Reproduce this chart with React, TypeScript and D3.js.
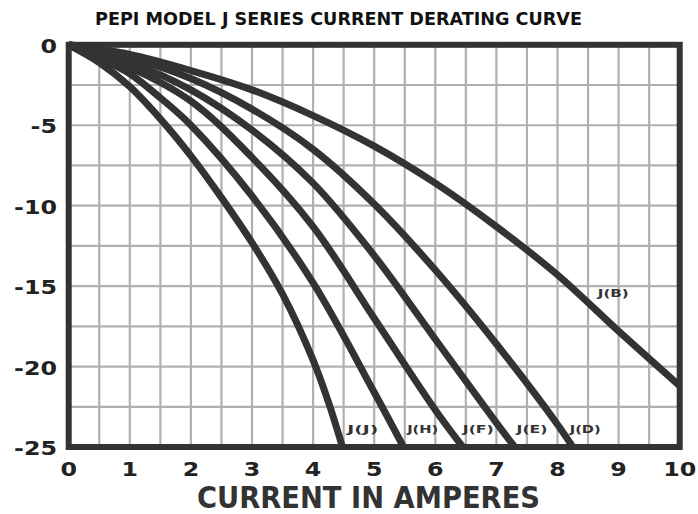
import React from 'react'
import * as d3 from 'd3'

// values
const xTicks = [0, 1, 2, 3, 4, 5, 6, 7, 8, 9, 10]
const yTicks = [0, -5, -10, -15, -20, -25]

const seriesNames = ['J(J)', 'J(H)', 'J(F)', 'J(E)', 'J(D)', 'J(B)']

const currentJJ = [0, 0.5, 1, 1.5, 2, 2.5, 3, 3.5, 4, 4.25, 4.48]
const dbJJ = [0, -1.1, -2.6, -4.6, -6.9, -9.5, -12.3, -15.5, -19.6, -22.2, -25]

const currentJH = [0, 0.5, 1, 1.5, 2, 3, 4, 5, 5.48]
const dbJH = [0, -0.8, -1.8, -3.3, -5.0, -9.4, -14.8, -21.6, -25]

const currentJF = [0, 1, 2, 3, 4, 5, 6, 6.45]
const dbJF = [0, -1.4, -3.5, -7.0, -11.3, -17.0, -22.7, -25]

const currentJE = [0, 1, 2, 3, 4, 5, 6, 7, 7.3]
const dbJE = [0, -1.1, -2.8, -5.3, -8.6, -13.1, -18.3, -23.5, -25]

const currentJD = [0, 1, 2, 3, 4, 5, 6, 7, 8, 8.25]
const dbJD = [0, -0.8, -2.1, -4.0, -6.5, -9.9, -14.0, -18.6, -23.6, -25]

const currentJB = [0, 1, 2, 3, 4, 5, 6, 7, 8, 9, 10]
const dbJB = [0, -0.6, -1.6, -2.8, -4.4, -6.3, -8.6, -11.3, -14.3, -17.8, -21.2]

// where each curve's name sits, in chart units
const labelCurrent = [4.56, 5.54, 6.45, 7.33, 8.2, 8.66]
const labelDb = [-24.1, -24.1, -24.1, -24.1, -24.1, -15.7]

const seriesX = [currentJJ, currentJH, currentJF, currentJE, currentJD, currentJB]
const seriesY = [dbJJ, dbJH, dbJF, dbJE, dbJD, dbJB]

const W = 698
const H = 514
const ink = '#333'

export default function App() {
  const x = d3.scaleLinear().domain([0, 10]).range([68.7, 679.7])
  const y = d3.scaleLinear().domain([0, -25]).range([44.8, 447])

  const line = d3.line<[number, number]>()
    .x(d => x(d[0]))
    .y(d => y(d[1]))
    .curve(d3.curveCatmullRom.alpha(0.5))

  const vGrid = d3.range(0.5, 10, 0.5)
  const hGrid = d3.range(-2.5, -25, -2.5)

  const font = '"DejaVu Sans", Verdana, sans-serif'

  return (
    <svg width={W} height={H} style={{ position: 'absolute', left: 0, top: 0, background: '#fff' }}>
      <text x={95} y={25} fontFamily={font} fontWeight="bold" fontSize={17}
        fill="#111" textLength={487} lengthAdjust="spacingAndGlyphs">
        PEPI MODEL J SERIES CURRENT DERATING CURVE
      </text>

      {/* grid */}
      <g stroke="#b0b0b0" strokeWidth={2.2}>
        {vGrid.map(v => (
          <line key={'v' + v} x1={x(v)} x2={x(v)} y1={y(0)} y2={y(-25)} />
        ))}
        {hGrid.map(v => (
          <line key={'h' + v} x1={x(0)} x2={x(10)} y1={y(v)} y2={y(v)} />
        ))}
      </g>

      {/* curves */}
      <g fill="none" stroke={ink} strokeWidth={7}>
        {seriesNames.map((name, i) => (
          <path key={name}
            d={line(seriesX[i].map((c, j) => [c, seriesY[i][j]] as [number, number])) || ''} />
        ))}
      </g>

      {/* curve names */}
      <g fontFamily={font} fontWeight="bold" fontSize={11} fill={ink}>
        {seriesNames.map((name, i) => (
          <text key={name} x={x(labelCurrent[i])} y={y(labelDb[i])}
            textLength={31} lengthAdjust="spacingAndGlyphs">{name}</text>
        ))}
      </g>

      {/* frame */}
      <rect x={x(0)} y={y(0)} width={x(10) - x(0)} height={y(-25) - y(0)}
        fill="none" stroke={ink} strokeWidth={6} />

      {/* y tick labels */}
      <g fontFamily={font} fontWeight="bold" fontSize={19} fill="#222" textAnchor="end">
        {yTicks.map(t => (
          <text key={t} transform={`translate(57,${y(t) + 8}) scale(1.25,1)`}>{t}</text>
        ))}
      </g>

      {/* x tick labels */}
      <g fontFamily={font} fontWeight="bold" fontSize={19} fill="#222" textAnchor="middle">
        {xTicks.map(t => (
          <text key={t} transform={`translate(${x(t)},${476}) scale(1.25,1)`}>{t}</text>
        ))}
      </g>

      <text x={197} y={508} fontFamily={font} fontWeight="bold" fontSize={30}
        fill={ink} textLength={343} lengthAdjust="spacingAndGlyphs">
        CURRENT IN AMPERES
      </text>
    </svg>
  )
}
